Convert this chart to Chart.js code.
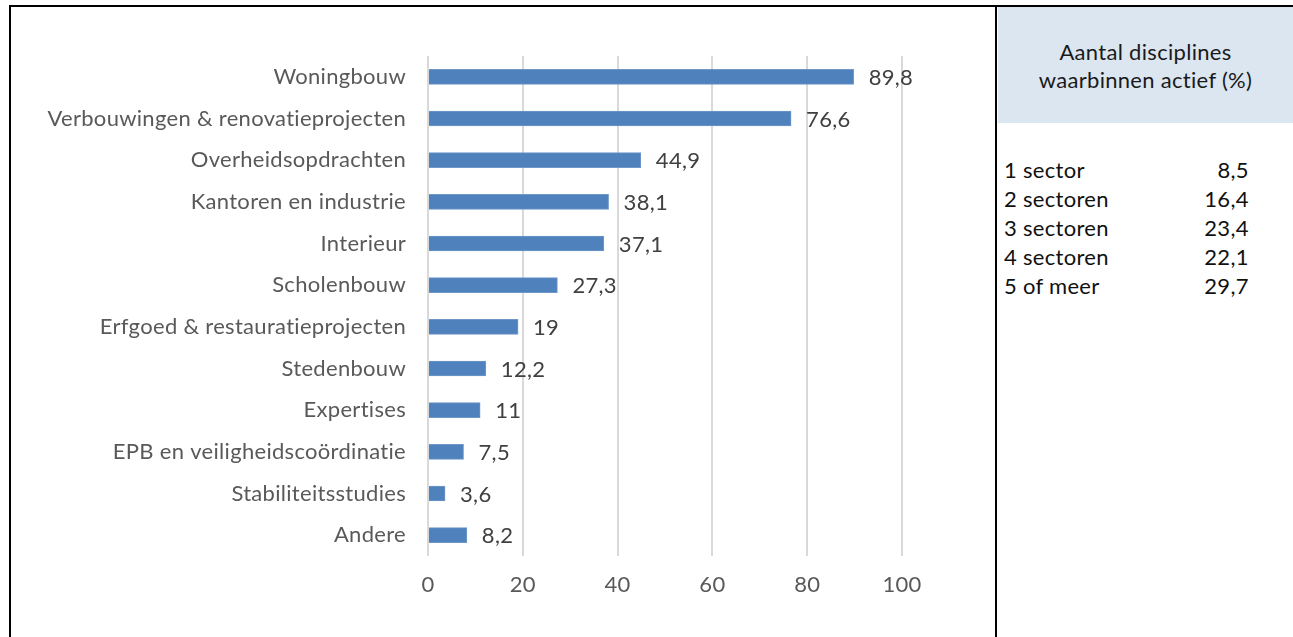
<!DOCTYPE html>
<html>
<head>
<meta charset="utf-8">
<script src="https://cdn.jsdelivr.net/npm/chart.js@4"></script>
<style>
  body { margin: 0; background: #fff; font-family: Lato, sans-serif; font-variant-ligatures: none; }
  #wrap { position: relative; width: 1293px; height: 637px; overflow: hidden; }
  #chartBox { position: absolute; left: 0; top: 0; width: 995px; height: 637px; }
  .line { position: absolute; background: #000; }
  #head { position: absolute; left: 998px; top: 7px; width: 295px; height: 116px; background: #dce6f1;
          color: #1a1a1a; font-size: 22px; letter-spacing: 0.3px; text-align: center; line-height: 28px;
          box-sizing: border-box; padding-top: 31px; }
  #tbl { position: absolute; left: 1004px; top: 155px; border-collapse: collapse; font-size: 22px;
         letter-spacing: 0.3px; color: #111; }
  #tbl td { padding: 0; height: 29px; line-height: 29px; }
  #tbl td.v { text-align: right; width: 140px; }
</style>
</head>
<body>
<div id="wrap">
  <div id="chartBox"><canvas id="sectorChart" width="995" height="637"></canvas></div>
  <div class="line" style="left:9px; top:5px; width:1284px; height:2px;"></div>
  <div class="line" style="left:9px; top:5px; width:2px; height:632px;"></div>
  <div class="line" style="left:995px; top:5px; width:2px; height:632px;"></div>
  <div id="head">Aantal disciplines<br>waarbinnen actief (%)</div>
  <table id="tbl"></table>
</div>
<script>
// gegevens van de grafiek
var categories = ['Woningbouw', 'Verbouwingen & renovatieprojecten', 'Overheidsopdrachten',
    'Kantoren en industrie', 'Interieur', 'Scholenbouw', 'Erfgoed & restauratieprojecten',
    'Stedenbouw', 'Expertises', 'EPB en veiligheidscoördinatie', 'Stabiliteitsstudies', 'Andere'];
var percentages = [89.8, 76.6, 44.9, 38.1, 37.1, 27.3, 19, 12.2, 11, 7.5, 3.6, 8.2];
var xTicks = [0, 20, 40, 60, 80, 100];

// tabel rechts
var sectorLabels = ['1 sector', '2 sectoren', '3 sectoren', '4 sectoren', '5 of meer'];
var sectorValues = [8.5, 16.4, 23.4, 22.1, 29.7];

function nl(v) {
    return String(v).replace('.', ',');
}

var tbl = document.getElementById('tbl');
sectorLabels.forEach(function(lbl, i) {
    tbl.innerHTML += '<tr><td>' + lbl + '</td><td class="v">' + nl(sectorValues[i]) + '</td></tr>';
});

// iets letterafstand, dan valt de "ti" ligatuur van Lato ook weg
var spacing = {
    id: 'spacing',
    beforeDraw: function(chart) {
        chart.ctx.letterSpacing = '0.3px';
    }
};

// waarden naast de balken
var valueLabels = {
    id: 'valueLabels',
    afterDatasetsDraw: function(chart) {
        var ctx = chart.ctx;
        var meta = chart.getDatasetMeta(0);
        ctx.save();
        ctx.font = '22px Lato, sans-serif';
        ctx.fillStyle = '#404040';
        ctx.textAlign = 'left';
        ctx.textBaseline = 'middle';
        meta.data.forEach(function(bar, i) {
            ctx.fillText(nl(percentages[i]), bar.x + 15, bar.y + 1);
        });
        ctx.restore();
    }
};

var ctx = document.getElementById('sectorChart').getContext('2d');
var sectorChart = new Chart(ctx, {
    type: 'bar',
    data: {
        labels: categories,
        datasets: [{
            data: percentages,
            backgroundColor: '#4f81bd',
            borderColor: '#6f98c9',
            borderWidth: 1,
            barThickness: 15
        }]
    },
    options: {
        indexAxis: 'y',
        responsive: false,
        animation: false,
        layout: { padding: { top: 56, right: 93, bottom: 0, left: 0 } },
        plugins: { legend: { display: false }, tooltip: { enabled: false } },
        scales: {
            x: {
                min: 0,
                max: 100,
                afterBuildTicks: function(scale) {
                    scale.ticks = xTicks.map(function(v) { return { value: v }; });
                },
                afterFit: function(scale) { scale.height = 81; },
                grid: { color: '#d9d9d9', lineWidth: 2, drawTicks: false },
                border: { display: false },
                ticks: { padding: 16, color: '#595959', font: { family: 'Lato', size: 22 } }
            },
            y: {
                afterFit: function(scale) { scale.width = 428; },
                grid: { display: false, drawTicks: false },
                border: { display: false },
                ticks: { padding: 22, color: '#595959', font: { family: 'Lato', size: 22 } }
            }
        }
    },
    plugins: [spacing, valueLabels]
});
</script>
</body>
</html>
